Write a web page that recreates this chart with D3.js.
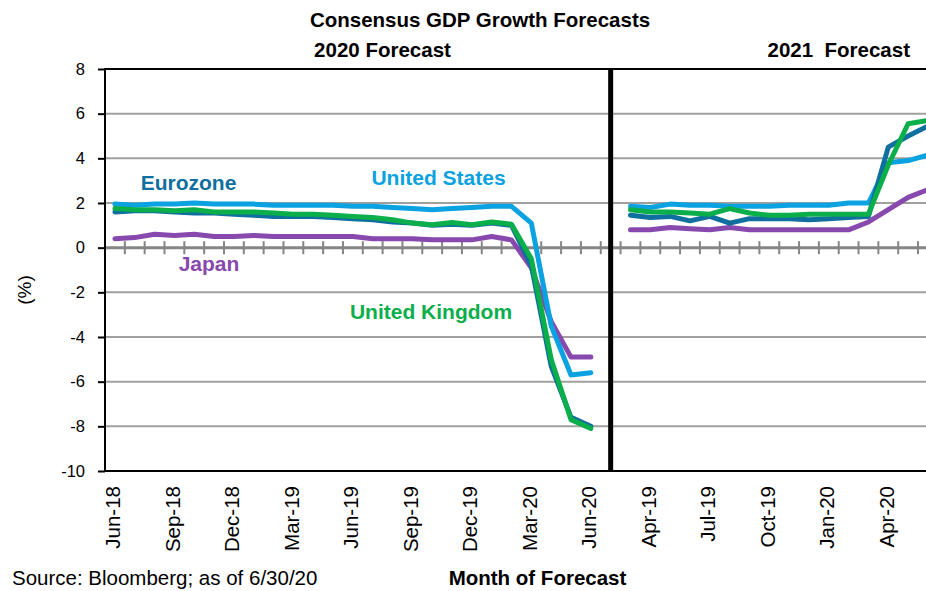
<!DOCTYPE html>
<html>
<head>
<meta charset="utf-8">
<script src="https://cdn.jsdelivr.net/npm/d3@7"></script>
<style>
  html, body { margin: 0; padding: 0; background: #fff; }
  svg { display: block; font-family: "Liberation Sans", Arial, sans-serif; }
</style>
</head>
<body>
<svg id="chart" width="926" height="591"></svg>
<script>
// ---------------- DATA ----------------
const leftMonths = ["Jun-18","Jul-18","Aug-18","Sep-18","Oct-18","Nov-18","Dec-18","Jan-19","Feb-19","Mar-19","Apr-19","May-19","Jun-19","Jul-19","Aug-19","Sep-19","Oct-19","Nov-19","Dec-19","Jan-20","Feb-20","Mar-20","Apr-20","May-20","Jun-20"];
const rightMonths = ["Mar-19","Apr-19","May-19","Jun-19","Jul-19","Aug-19","Sep-19","Oct-19","Nov-19","Dec-19","Jan-20","Feb-20","Mar-20","Apr-20","May-20","Jun-20"];

// 2020 forecasts (left panel)
const us2020    = [1.95,1.9,1.95,1.95,2.0,1.95,1.95,1.95,1.9,1.9,1.9,1.9,1.85,1.85,1.8,1.75,1.7,1.75,1.8,1.85,1.85,1.1,-3.5,-5.7,-5.6];
const ez2020    = [1.6,1.65,1.65,1.6,1.55,1.55,1.5,1.45,1.4,1.4,1.4,1.35,1.3,1.25,1.15,1.1,1.0,1.05,1.0,1.1,1.0,-0.8,-5.3,-7.6,-8.0];
const uk2020    = [1.75,1.7,1.7,1.65,1.7,1.6,1.6,1.6,1.55,1.5,1.5,1.45,1.4,1.35,1.25,1.1,1.03,1.13,1.03,1.15,1.05,-0.5,-5.0,-7.7,-8.1];
const japan2020 = [0.4,0.45,0.6,0.55,0.6,0.5,0.5,0.55,0.5,0.5,0.5,0.5,0.5,0.4,0.4,0.4,0.35,0.35,0.35,0.5,0.35,-0.9,-3.3,-4.9,-4.9];

// 2021 forecasts (right panel)
const us2021    = [1.85,1.8,1.95,1.9,1.9,1.85,1.85,1.85,1.9,1.9,1.9,2.0,2.0,3.8,3.9,4.15];
const ez2021    = [1.45,1.35,1.4,1.2,1.4,1.1,1.3,1.3,1.3,1.25,1.3,1.35,1.4,4.5,5.0,5.45];
const uk2021    = [1.7,1.6,1.6,1.55,1.5,1.75,1.55,1.45,1.45,1.5,1.5,1.5,1.5,3.7,5.55,5.7];
const japan2021 = [0.8,0.8,0.9,0.85,0.8,0.9,0.8,0.8,0.8,0.8,0.8,0.8,1.15,1.7,2.25,2.6];

const yTicks = [-10,-8,-6,-4,-2,0,2,4,6,8];
const leftLabelMonths = ["Jun-18","Sep-18","Dec-18","Mar-19","Jun-19","Sep-19","Dec-19","Mar-20","Jun-20"];
const rightLabelMonths = ["Apr-19","Jul-19","Oct-19","Jan-20","Apr-20"];

const seriesNames = ["Japan","United States","Eurozone","United Kingdom"];
const seriesColors = {"United States":"#0aa2e0","Eurozone":"#0f6f9e","United Kingdom":"#0aae4a","Japan":"#8749ad"};

// ---------------- LAYOUT ----------------
const svg = d3.select("#chart");
const plotLeft = 105, step = 19.83, gapCats = 1;
const nCats = leftMonths.length + gapCats + rightMonths.length;
const x = d3.scaleBand().domain(d3.range(nCats)).range([plotLeft, plotLeft + nCats * step]).padding(0);
const cx = i => x(i) + x.bandwidth() / 2;
const leftIdx = m => leftMonths.indexOf(m);
const rightIdx = m => leftMonths.length + gapCats + rightMonths.indexOf(m);
const plotRight = x.range()[1];

const y = d3.scaleLinear().domain([-10, 8]).range([471, 69]);

// gridlines
svg.append("g").selectAll("line").data(yTicks.filter(v => v !== 0 && v !== 8 && v !== -10)).join("line")
  .attr("x1", plotLeft).attr("x2", plotRight)
  .attr("y1", d => y(d)).attr("y2", d => y(d))
  .attr("stroke", "#a0a0a0").attr("stroke-width", 2);

// zero line with category tick marks
svg.append("line").attr("x1", plotLeft).attr("x2", plotRight)
  .attr("y1", y(0)).attr("y2", y(0)).attr("stroke", "#858585").attr("stroke-width", 3);
svg.append("g").selectAll("line").data(d3.range(nCats + 1)).join("line")
  .attr("x1", d => plotLeft + d * x.step()).attr("x2", d => plotLeft + d * x.step())
  .attr("y1", y(0) - 6.5).attr("y2", y(0) + 6.5)
  .attr("stroke", "#858585").attr("stroke-width", 2);

// plot border (top, bottom)
svg.append("line").attr("x1", plotLeft).attr("x2", plotRight).attr("y1", y(8)).attr("y2", y(8))
  .attr("stroke", "#000").attr("stroke-width", 2);
svg.append("line").attr("x1", plotLeft).attr("x2", plotRight).attr("y1", y(-10)).attr("y2", y(-10))
  .attr("stroke", "#000").attr("stroke-width", 2);

// y axis
const yAxis = d3.axisLeft(y).tickValues(yTicks).tickSize(7).tickPadding(13).tickFormat(d3.format("d"));
const gy = svg.append("g").attr("transform", `translate(${plotLeft},0)`).call(yAxis);
gy.select(".domain").remove();
gy.selectAll(".tick line").attr("stroke", "#000").attr("stroke-width", 2);
gy.selectAll(".tick text").attr("font-size", 16.5).attr("fill", "#000")
  .attr("font-family", "'Liberation Sans', Arial, sans-serif").text(d => d < 0 ? "-" + Math.abs(d) : d);
svg.append("line").attr("x1", plotLeft).attr("x2", plotLeft).attr("y1", y(8) - 1).attr("y2", y(-10) + 1)
  .attr("stroke", "#000").attr("stroke-width", 2);

// divider between panels
svg.append("line").attr("x1", cx(leftMonths.length)).attr("x2", cx(leftMonths.length))
  .attr("y1", y(8)).attr("y2", y(-10)).attr("stroke", "#000").attr("stroke-width", 5);

// lines
const line = d3.line().x(d => cx(d.i)).y(d => y(d.v));
const data2020 = {"United States": us2020, "Eurozone": ez2020, "United Kingdom": uk2020, "Japan": japan2020};
const data2021 = {"United States": us2021, "Eurozone": ez2021, "United Kingdom": uk2021, "Japan": japan2021};
seriesNames.forEach(name => {
  const l = data2020[name].map((v, k) => ({i: leftIdx(leftMonths[k]), v}));
  const r = data2021[name].map((v, k) => ({i: rightIdx(rightMonths[k]), v}));
  [l, r].forEach(pts => {
    svg.append("path").datum(pts).attr("d", line).attr("fill", "none")
      .attr("stroke", seriesColors[name]).attr("stroke-width", 5)
      .attr("stroke-linejoin", "round").attr("stroke-linecap", "round");
  });
});

// x labels
const xLabels = leftLabelMonths.map(m => ({m, i: leftIdx(m)}))
  .concat(rightLabelMonths.map(m => ({m, i: rightIdx(m)})));
svg.append("g").selectAll("text").data(xLabels).join("text")
  .attr("transform", d => `translate(${cx(d.i) - 2},486) rotate(-90)`)
  .attr("text-anchor", "end").attr("dominant-baseline", "central")
  .attr("font-size", 20.5).attr("fill", "#000").text(d => d.m);

// series annotations
const annos = [
  {t: "Eurozone", x: 188.5, y: 189.5},
  {t: "United States", x: 438.5, y: 184.5},
  {t: "Japan", x: 209, y: 271},
  {t: "United Kingdom", x: 431, y: 318.5}
];
svg.append("g").selectAll("text").data(annos).join("text")
  .attr("x", d => d.x).attr("y", d => d.y).attr("text-anchor", "middle")
  .attr("font-size", 21).attr("font-weight", "bold").attr("fill", d => seriesColors[d.t]).text(d => d.t);

// titles
svg.append("text").attr("x", 480).attr("y", 27).attr("text-anchor", "middle")
  .attr("font-size", 20.5).attr("font-weight", "bold").text("Consensus GDP Growth Forecasts");
svg.append("text").attr("x", 382.5).attr("y", 57).attr("text-anchor", "middle")
  .attr("font-size", 20.5).attr("font-weight", "bold").text("2020 Forecast");
svg.append("text").attr("x", 910).attr("y", 57).attr("text-anchor", "end").style("white-space", "pre")
  .attr("font-size", 20.5).attr("font-weight", "bold").text("2021  Forecast");

// axis titles & source
svg.append("text").attr("transform", "translate(31,290) rotate(-90)").attr("text-anchor", "middle")
  .attr("font-size", 19).text("(%)");
svg.append("text").attr("x", 537.5).attr("y", 585).attr("text-anchor", "middle")
  .attr("font-size", 20.5).attr("font-weight", "bold").text("Month of Forecast");
svg.append("text").attr("x", 12).attr("y", 585).attr("font-size", 20.5).text("Source: Bloomberg; as of 6/30/20");
</script>
</body>
</html>
